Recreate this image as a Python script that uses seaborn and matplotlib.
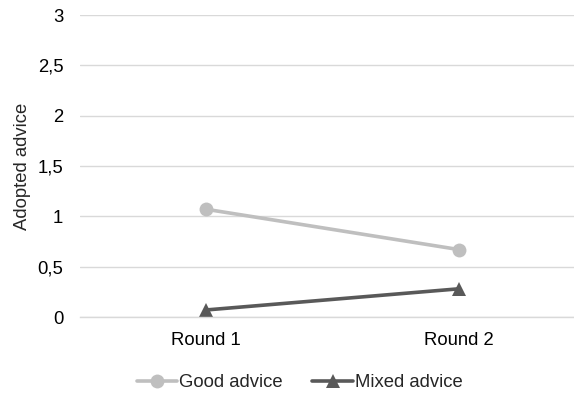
import matplotlib
matplotlib.use("Agg")
import matplotlib.pyplot as plt
import seaborn as sns
import pandas as pd
from matplotlib.ticker import FuncFormatter
from matplotlib.lines import Line2D

rounds = ["Round 1", "Round 2"]
good_advice = [1.07, 0.67]
mixed_advice = [0.07, 0.28]
series_names = ["Good advice", "Mixed advice"]
y_ticks = [0, 0.5, 1, 1.5, 2, 2.5, 3]

df = pd.DataFrame({
    "round": rounds * 2,
    "value": good_advice + mixed_advice,
    "series": [series_names[0]] * 2 + [series_names[1]] * 2,
})

sns.set_theme(style="white")
plt.rcParams["font.family"] = ["Liberation Sans", "DejaVu Sans"]

fig = plt.figure(figsize=(5.74, 3.94), dpi=100)
ax = fig.add_axes([80 / 574, 77 / 394, 505 / 574, 302 / 394])

palette = {"Good advice": "#bfbfbf", "Mixed advice": "#595959"}
markers = {"Good advice": "o", "Mixed advice": "^"}
sns.lineplot(data=df, x="round", y="value", hue="series", style="series",
             palette=palette, markers=markers, dashes=False, linewidth=2.6,
             markersize=10, markeredgewidth=0, ax=ax, sort=False, legend=False)

ax.set_xlim(-0.5, 1.5)
ax.set_ylim(0, 3)
ax.set_yticks(y_ticks)
ax.yaxis.set_major_formatter(FuncFormatter(lambda v, p: f"{v:g}".replace(".", ",")))
ax.grid(axis="y", color="#d9d9d9", linewidth=1)
ax.set_axisbelow(True)
for s in ["top", "right", "left"]:
    ax.spines[s].set_visible(False)
ax.spines["bottom"].set_color("#d9d9d9")
ax.spines["bottom"].set_linewidth(1)
ax.tick_params(axis="both", length=0, labelsize=13.3, colors="#000000")
ax.tick_params(axis="x", pad=11)
ax.tick_params(axis="y", pad=12)
ax.set_xlabel("")
ax.set_ylabel("Adopted advice", fontsize=13.3, labelpad=5)

handles = [Line2D([], [], color=palette[n], marker=markers[n], linewidth=2.6,
                  markersize=10, markeredgewidth=0) for n in series_names]
fig.legend(handles, series_names, loc="center", bbox_to_anchor=(0.522, 0.028),
           ncol=2, frameon=False, fontsize=13.3, handlelength=2.2,
           handletextpad=0.1, columnspacing=1.6)

fig.savefig("out.png", dpi=100)
